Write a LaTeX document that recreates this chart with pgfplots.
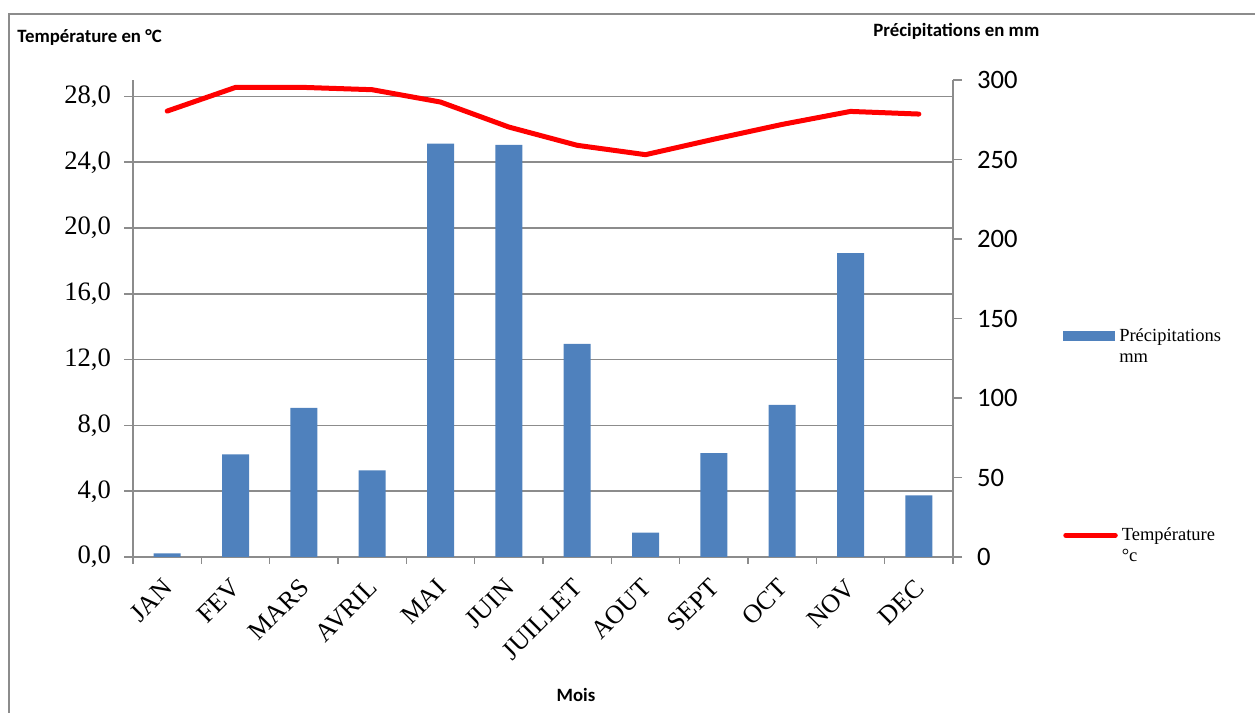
\documentclass[border=0pt]{standalone}
\usepackage{pgfplots}
\pgfplotsset{compat=1.18}
\usepackage{fontspec}
\setmainfont{Liberation Serif}
\newfontfamily\calibri{Carlito}
\definecolor{barblue}{HTML}{4F81BD}
\definecolor{gridgray}{HTML}{8C8C8C}
\begin{document}
\begin{tikzpicture}[x=0.5pt,y=0.5pt]
\useasboundingbox (0,0) rectangle (1255,713);
% frame
\draw[gridgray, line width=0.75pt] (9,0) -- (9,699) -- (1255,699);
% titles
\node[anchor=west, font=\calibri\bfseries\fontsize{9.4}{11}\selectfont, inner sep=0pt] at (17,676) {Température en °C};
\node[anchor=west, font=\calibri\bfseries\fontsize{9.4}{11}\selectfont, inner sep=0pt] at (873,682) {Précipitations en mm};
\node[font=\calibri\bfseries\fontsize{9.4}{11}\selectfont, inner sep=0pt] at (576,18) {Mois};

% left axis: temperature
\begin{axis}[
  at={(66.5pt,78pt)}, anchor=south west, scale only axis,
  width=410pt, height=238.5pt,
  xmin=0.5, xmax=12.5, ymin=0, ymax=29,
  axis x line*=bottom, axis y line*=left,
  axis line style={gridgray, line width=0.75pt, -},
  xtick={1,...,12},
  xticklabels={JAN,FEV,MARS,AVRIL,MAI,JUIN,JUILLET,AOUT,SEPT,OCT,NOV,DEC},
  major x tick style={draw=none},
  minor xtick={0.5,1.5,...,12.5},
  minor tick length=3.5pt,
  minor x tick style={gridgray, line width=0.75pt},
  xticklabel style={xshift=-2.7pt, yshift=-5.5pt, rotate=45, anchor=north east, inner sep=0pt, font=\fontsize{13}{14}\selectfont},
  ytick={0,4,...,28},
  ymajorgrids, grid style={gridgray, line width=0.75pt},
  tick align=outside, major tick length=4.5pt,
  y tick style={gridgray, line width=0.75pt},
  yticklabel style={font=\fontsize{13.3}{14}\selectfont, xshift=-3pt},
  /pgf/number format/.cd, fixed, fixed zerofill, precision=1, use comma, assume math mode=true,
  /pgfplots/.cd,
  legend style={at={(1.134,0.023)}, anchor=west, draw=none, fill=none, inner sep=0pt,
    font=\fontsize{9.25}{10.8}\selectfont, cells={align=left}},
  legend cell align=left,
  legend image code/.code={\path[draw=none, fill=none] (0pt,-8pt) rectangle (26pt,8pt);
    \draw[#1, line cap=round] (1.25pt,5.4pt) -- (26pt,5.4pt);},
  clip=false,
]
\addplot[color=red, line width=2.5pt, line join=round, line cap=round] coordinates {
  (1,27.11) (2,28.55) (3,28.55) (4,28.41) (5,27.66) (6,26.14)
  (7,25.03) (8,24.46) (9,25.40) (10,26.30) (11,27.09) (12,26.93)
};
\addlegendentry{Température\\°c}
\end{axis}

% right axis: precipitation
\begin{axis}[
  at={(66.5pt,78pt)}, anchor=south west, scale only axis,
  width=410pt, height=238.5pt,
  xmin=0.5, xmax=12.5, ymin=0, ymax=300,
  axis x line=none, axis y line*=right,
  axis line style={gridgray, line width=0.75pt, -},
  ytick={0,50,...,300},
  tick align=outside, major tick length=4.5pt,
  y tick style={gridgray, line width=0.75pt},
  yticklabel style={font=\calibri\fontsize{13.3}{14}\selectfont, xshift=4pt},
  /pgf/number format/assume math mode=true,
  legend style={at={(1.134,0.44)}, anchor=west, draw=none, fill=none, inner sep=0pt,
    font=\fontsize{9.25}{10.8}\selectfont, cells={align=left}},
  legend cell align=left,
  legend image code/.code={\path[draw=none, fill=none] (0pt,-8pt) rectangle (26pt,8pt);
    \fill[barblue] (0pt,2.9pt) rectangle (26pt,7.9pt);},
]
\addplot[ybar, bar width=13.5pt, fill=barblue, draw=none] coordinates {
  (1,2.3) (2,64.5) (3,93.8) (4,54.5) (5,260.0) (6,259.2)
  (7,134.1) (8,15.3) (9,65.4) (10,95.7) (11,191.1) (12,38.8)
};
\addlegendentry{Précipitations\\mm}
\end{axis}
\end{tikzpicture}
\end{document}
